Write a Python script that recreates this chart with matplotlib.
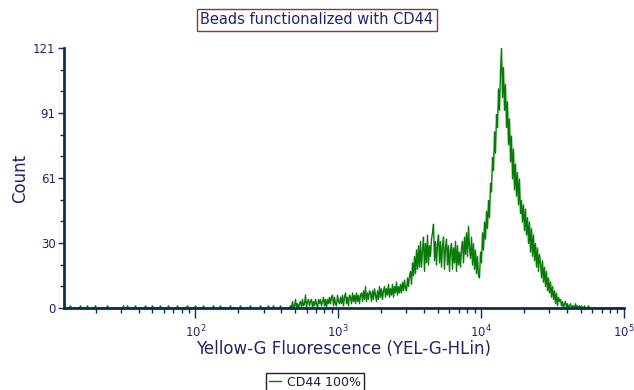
import numpy as np
import matplotlib.pyplot as plt
from matplotlib.lines import Line2D

# histogram: log bins, 0.007 decade wide, from 10^1.08 to 10^5
log_lo, log_hi, n_bins = 1.08, 5.0, 560

# single events in the low tail (fluorescence values, 1 count each)
tail_events = [13.4, 15.7, 17.6, 20.0, 24.3, 31.4, 33.5, 38.0, 44.7, 50.0,
               56.9, 64.7, 74.8, 87.9, 100, 113.8, 133.6, 149.6, 175.8,
               206.5, 242.6, 285, 324, 351, 393]

# counts from ~460 upwards, one value per bin
main_start = 10 ** 2.664
main_counts = [
    1, 0, 3, 0, 1, 4, 0, 2, 0, 2,
    3, 0, 4, 1, 2, 6, 0, 3, 4, 1,
    3, 4, 0, 3, 1, 4, 2, 0, 4, 2,
    4, 1, 3, 5, 1, 4, 0, 4, 2, 5,
    2, 5, 6, 1, 5, 2, 1, 6, 3, 2,
    5, 2, 6, 1, 5, 7, 2, 5, 1, 6,
    5, 2, 7, 3, 6, 2, 7, 3, 6, 2,
    6, 7, 3, 8, 4, 10, 3, 7, 4, 8,
    7, 3, 8, 4, 9, 6, 3, 8, 4, 10,
    5, 9, 4, 8, 10, 5, 9, 6, 11, 5,
    9, 6, 11, 5, 10, 7, 12, 6, 10, 7,
    11, 7, 12, 8, 13, 9, 8, 14, 10, 15,
    17, 11, 21, 15, 24, 16, 27, 18, 29, 19,
    31, 19, 27, 33, 17, 30, 21, 34, 20, 29,
    24, 32, 35, 39, 22, 31, 20, 30, 34, 21,
    31, 19, 29, 33, 18, 28, 32, 20, 29, 17,
    27, 30, 18, 28, 21, 31, 17, 29, 20, 26,
    19, 28, 31, 21, 33, 25, 35, 24, 38, 28,
    23, 33, 20, 30, 18, 27, 16, 24, 15, 14,
    26, 21, 35, 27, 40, 32, 45, 37, 50, 42,
    58, 54, 70, 64, 82, 72, 90, 84, 102, 92,
    110, 121, 98, 112, 92, 104, 84, 96, 76, 88,
    68, 80, 60, 74, 55, 67, 52, 63, 48, 60,
    44, 50, 40, 48, 36, 46, 34, 42, 30, 40,
    26, 37, 24, 34, 22, 30, 19, 28, 17, 25,
    21, 14, 22, 12, 19, 10, 17, 8, 14, 7,
    12, 5, 10, 4, 8, 2, 7, 1, 5, 3,
    4, 1, 3, 0, 2, 3, 0, 2, 0, 1,
    2, 0, 1, 1, 0, 2, 0, 1, 0, 1,
    0, 1, 0, 0, 1, 0, 0, 0, 1, 0,
]

y_max = 121
y_labels = ["0", "30", "61", "91", "121"]
x_labels = [r"$10^{2}$", r"$10^{3}$", r"$10^{4}$", r"$10^{5}$"]
x_ticks = [1e2, 1e3, 1e4, 1e5]

edges = np.logspace(log_lo, log_hi, n_bins + 1)
centers = np.sqrt(edges[:-1] * edges[1:])
counts = np.zeros(n_bins)
for v in tail_events:
    counts[np.searchsorted(edges, v) - 1] += 1
i0 = np.searchsorted(edges, main_start) - 1
counts[i0:i0 + len(main_counts)] = main_counts

navy = "#0f2d52"
txt = "#23236b"
green = "#087a08"

fig = plt.figure(figsize=(6.34, 3.90), dpi=100)
ax = fig.add_axes([64 / 634, 1 - 308 / 390, 560 / 634, 260 / 390])
ax.plot(centers, counts, color=green, lw=1.0)

ax.set_xscale("log")
ax.set_xlim(edges[0], 1e5)
ax.set_ylim(0, y_max)

ax.set_xticks(x_ticks)
ax.set_xticklabels(x_labels)
ax.set_yticks(np.linspace(0, y_max, 5))
ax.set_yticklabels(y_labels)
ax.set_yticks(np.linspace(0, y_max, 13), minor=True)

for s in ["top", "right"]:
    ax.spines[s].set_visible(False)
for s in ["left", "bottom"]:
    ax.spines[s].set_color(navy)
    ax.spines[s].set_linewidth(2)

ax.tick_params(axis="x", which="major", length=7, width=1, color=navy,
               labelsize=8.5, labelcolor=txt, pad=4)
ax.tick_params(axis="x", which="minor", length=3.5, width=1, color=navy)
ax.tick_params(axis="y", which="major", length=4, width=1, color=navy,
               labelsize=8.5, labelcolor=txt, pad=2)
ax.tick_params(axis="y", which="minor", length=3, width=1, color=navy)

ax.set_xlabel("Yellow-G Fluorescence (YEL-G-HLin)", fontsize=12, color=txt,
              labelpad=0)
ax.set_ylabel("Count", fontsize=12, color=txt, labelpad=3)

fig.text(0.5, 1 - 20 / 390, "Beads functionalized with CD44", ha="center",
         va="center", fontsize=10.5, color=txt,
         bbox=dict(boxstyle="square,pad=0.25", fc="white", ec="#8b3535", lw=1))

h = Line2D([], [], color=green, lw=1)
leg = fig.legend(handles=[h], labels=["CD44 100%"], loc="upper center",
                 bbox_to_anchor=(0.497, 1 - 367 / 390), fontsize=9,
                 handlelength=1, handletextpad=0.5, borderpad=0.2,
                 fancybox=False, edgecolor="#222222", framealpha=1)
leg.get_frame().set_linewidth(1)
for t in leg.get_texts():
    t.set_color("#1a1a3a")

fig.savefig("out.png", dpi=100)
